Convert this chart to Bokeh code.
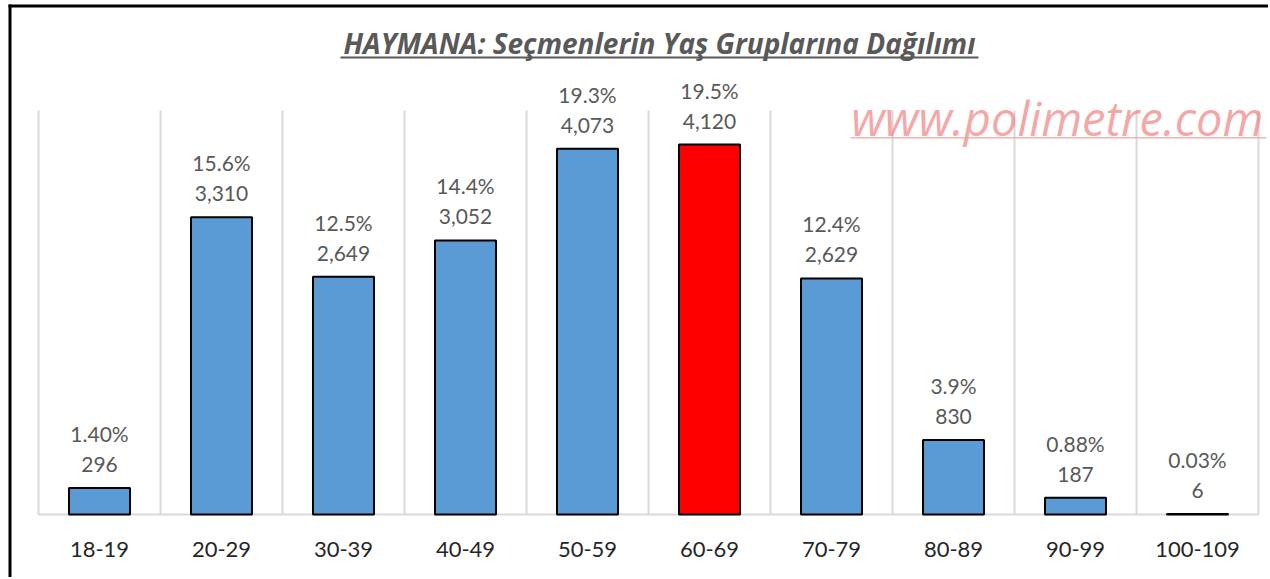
from bokeh.plotting import figure
from bokeh.models import Range1d, Label, BoxAnnotation, ColumnDataSource
from bokeh.core.properties import value
from bokeh.embed import file_html
from bokeh.resources import INLINE

categories = ["18-19", "20-29", "30-39", "40-49", "50-59", "60-69", "70-79", "80-89", "90-99", "100-109"]
counts = [296, 3310, 2649, 3052, 4073, 4120, 2629, 830, 187, 6]
percents = ["1.40%", "15.6%", "12.5%", "14.4%", "19.3%", "19.5%", "12.4%", "3.9%", "0.88%", "0.03%"]
highlight = "60-69"
y_max = 4500

FONT = "Lato"
W, H = 1268, 577
PLOT_LEFT, CAT_W = 38, 122     # pixel position of the plot area
PLOT_TOP, PLOT_BOTTOM = 110, 514

n = len(categories)
xs = [i + 0.5 for i in range(n)]
colors = ["#FF0000" if c == highlight else "#5B9BD5" for c in categories]
labels = [f"{p}\n{c:,}" for p, c in zip(percents, counts)]
src = ColumnDataSource(dict(x=xs, y=counts, color=colors, label=labels, cat=categories,
                            zero=[0] * n))

px_per_unit = (PLOT_BOTTOM - PLOT_TOP) / y_max
p = figure(width=W, height=H, output_backend="svg", toolbar_location=None,
           x_range=Range1d(-PLOT_LEFT / CAT_W, (W - PLOT_LEFT) / CAT_W),
           y_range=Range1d(-(H - PLOT_BOTTOM) / px_per_unit, PLOT_BOTTOM / px_per_unit),
           min_border_left=0, min_border_right=0, min_border_top=0, min_border_bottom=0)
p.outline_line_color = None
p.background_fill_color = "white"
p.border_fill_color = "white"
p.xaxis.visible = False
p.yaxis.visible = False
p.xgrid.visible = False
p.ygrid.visible = False

# vertical separators between categories and the baseline
bounds = list(range(n + 1))
p.segment(x0=bounds, y0=[0] * len(bounds), x1=bounds, y1=[y_max] * len(bounds),
          line_color="#D9D9D9", line_width=2)
p.segment(x0=[0], y0=[0], x1=[n], y1=[0], line_color="#D9D9D9", line_width=2)

p.vbar(x="x", top="y", width=0.5, bottom=0, fill_color="color", line_color="black",
       line_width=2, source=src)
p.text(x="x", y="y", text="label", source=src, text_align="center", text_baseline="bottom",
       y_offset=-12, text_font=value(FONT), text_font_size="21px", text_color="#595959",
       text_line_height=1.2)
# category labels
p.text(x="x", y="zero", text="cat", source=src, text_align="center", text_baseline="middle",
       y_offset=35, text_font=value(FONT), text_font_size="22px", text_color="#262626")

def box(left, right, top, bottom, color, alpha=1.0):
    # screen units measured from frame bottom-left (y upwards)
    return BoxAnnotation(left=left, right=right, top=top, bottom=bottom,
                         left_units="screen", right_units="screen",
                         top_units="screen", bottom_units="screen",
                         fill_color=color, fill_alpha=alpha, line_color=None)

title = Label(x=659, y=H - 42, x_units="screen", y_units="screen",
              text="HAYMANA: Seçmenlerin Yaş Gruplarına Dağılımı",
              text_font="Open Sans", text_font_size="28px", text_font_style="bold italic",
              text_color="#595959", text_align="center", text_baseline="middle")
p.add_layout(title)
p.add_layout(box(340, 978, H - 56, H - 58, "#595959"))

wm = Label(x=1263, y=H - 117, x_units="screen", y_units="screen",
           text="www.polimetre.com", text_font="Open Sans", text_font_size="47px",
           text_font_style="italic", text_color="#F08080", text_alpha=0.7,
           text_align="right", text_baseline="alphabetic")
p.add_layout(wm)
p.add_layout(box(850, 1266, H - 136.5, H - 138, "#F4A0A0", 0.8))

# chart border (top and left)
p.add_layout(box(8, W, H - 4, H - 7, "black"))
p.add_layout(box(8, 11, H - 4, 0, "black"))

out = file_html(p, INLINE)
open("out.html", "w").write(out)
